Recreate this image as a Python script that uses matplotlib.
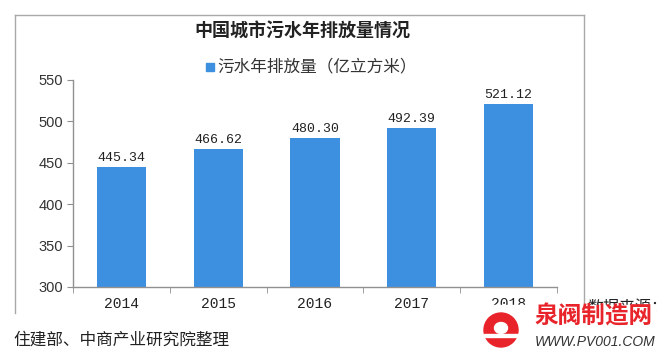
import matplotlib.pyplot as plt
import numpy as np
from matplotlib.lines import Line2D
from matplotlib.patches import Rectangle, Ellipse

plt.rcParams['font.family'] = ['Noto Sans CJK SC', 'DejaVu Sans']

# Data
years = ['2014', '2015', '2016', '2017', '2018']
sewage = [445.34, 466.62, 480.30, 492.39, 521.12]
title = '中国城市污水年排放量情况'
series_name = '污水年排放量（亿立方米）'
bar_color = '#3d8fe0'

W, H = 668, 357


def fx(x):
    return x / W


def fy(y):
    return 1 - y / H


fig = plt.figure(figsize=(W / 100, H / 100), dpi=100)
fig.patch.set_facecolor('white')

ax = fig.add_axes([fx(73), fy(287), fx(557) - fx(73), fy(80) - fy(287)])
x = np.arange(len(years))
rects = ax.bar(x, sewage, width=0.51, color=bar_color, zorder=2)
ax.bar_label(rects, labels=[f'{v:.2f}' for v in sewage], padding=2,
             fontsize=9.5, family='Liberation Mono', color='#222222')

ax.set_xlim(-0.5, len(years) - 0.5)
ax.set_ylim(300, 550)
ax.set_yticks(np.arange(300, 551, 50))
ax.set_xticks(x)
ax.set_xticklabels(years, family='Liberation Mono', fontsize=10.5, color='#222222')
ax.set_xticks(np.arange(-0.5, len(years)), minor=True)
ax.tick_params(axis='x', which='major', length=0, pad=7)
ax.tick_params(axis='x', which='minor', length=4, color='#909090', direction='out')
ax.tick_params(axis='y', length=4, color='#909090', labelsize=10.5, pad=3)
for lab in ax.get_yticklabels():
    lab.set_family('Liberation Sans')
    lab.set_color('#333333')

for side in ('top', 'right'):
    ax.spines[side].set_visible(False)
for side in ('left', 'bottom'):
    ax.spines[side].set_color('#909090')
    ax.spines[side].set_linewidth(1)

# Outer frame
frame = dict(color='#a8a8a8', lw=1, transform=fig.transFigure)
fig.add_artist(Line2D([fx(15), fx(584)], [fy(15), fy(15)], **frame))
fig.add_artist(Line2D([fx(15), fx(15)], [fy(15), fy(313)], **frame))
fig.add_artist(Line2D([fx(584), fx(584)], [fy(15), fy(303)], **frame))

# Title and legend
fig.text(fx(302), fy(30), title, ha='center', va='center',
         fontsize=13, fontweight='bold', color='#222222')
fig.add_artist(Rectangle((fx(206), fy(71)), fx(8), 8 / H, color=bar_color,
                         transform=fig.transFigure))
fig.text(fx(217), fy(67), series_name, ha='left', va='center',
         fontsize=12, color='#333333')

# Source
fig.text(fx(587), fy(308), '数据来源：', ha='left', va='center',
         fontsize=11.5, color='#222222')
fig.text(fx(13), fy(340), '住建部、中商产业研究院整理', ha='left', va='center',
         fontsize=12, color='#222222')

# Site watermark (bottom right)
fig.add_artist(Rectangle((fx(478), fy(357)), fx(177), 52 / H, color='white',
                         transform=fig.transFigure, zorder=5))
fig.add_artist(Ellipse((fx(501), fy(330)), 34 / W, 34 / H, color='#e8242a',
                       transform=fig.transFigure, zorder=6))
fig.add_artist(Ellipse((fx(501), fy(328)), 13 / W, 11 / H, color='white',
                       transform=fig.transFigure, zorder=7))
fig.add_artist(Rectangle((fx(484), fy(337)), 34 / W, 3 / H, color='white',
                         transform=fig.transFigure, zorder=7))
fig.text(fx(534), fy(316), '泉阀制造网', ha='left', va='center', fontsize=17,
         fontweight='bold', color='#e8242a', zorder=8)
fig.text(fx(535), fy(342), 'WWW.PV001.COM', ha='left', va='center', fontsize=10,
         style='italic', family='Liberation Sans', color='#333333', zorder=8)

fig.savefig('out.png', dpi=100)
